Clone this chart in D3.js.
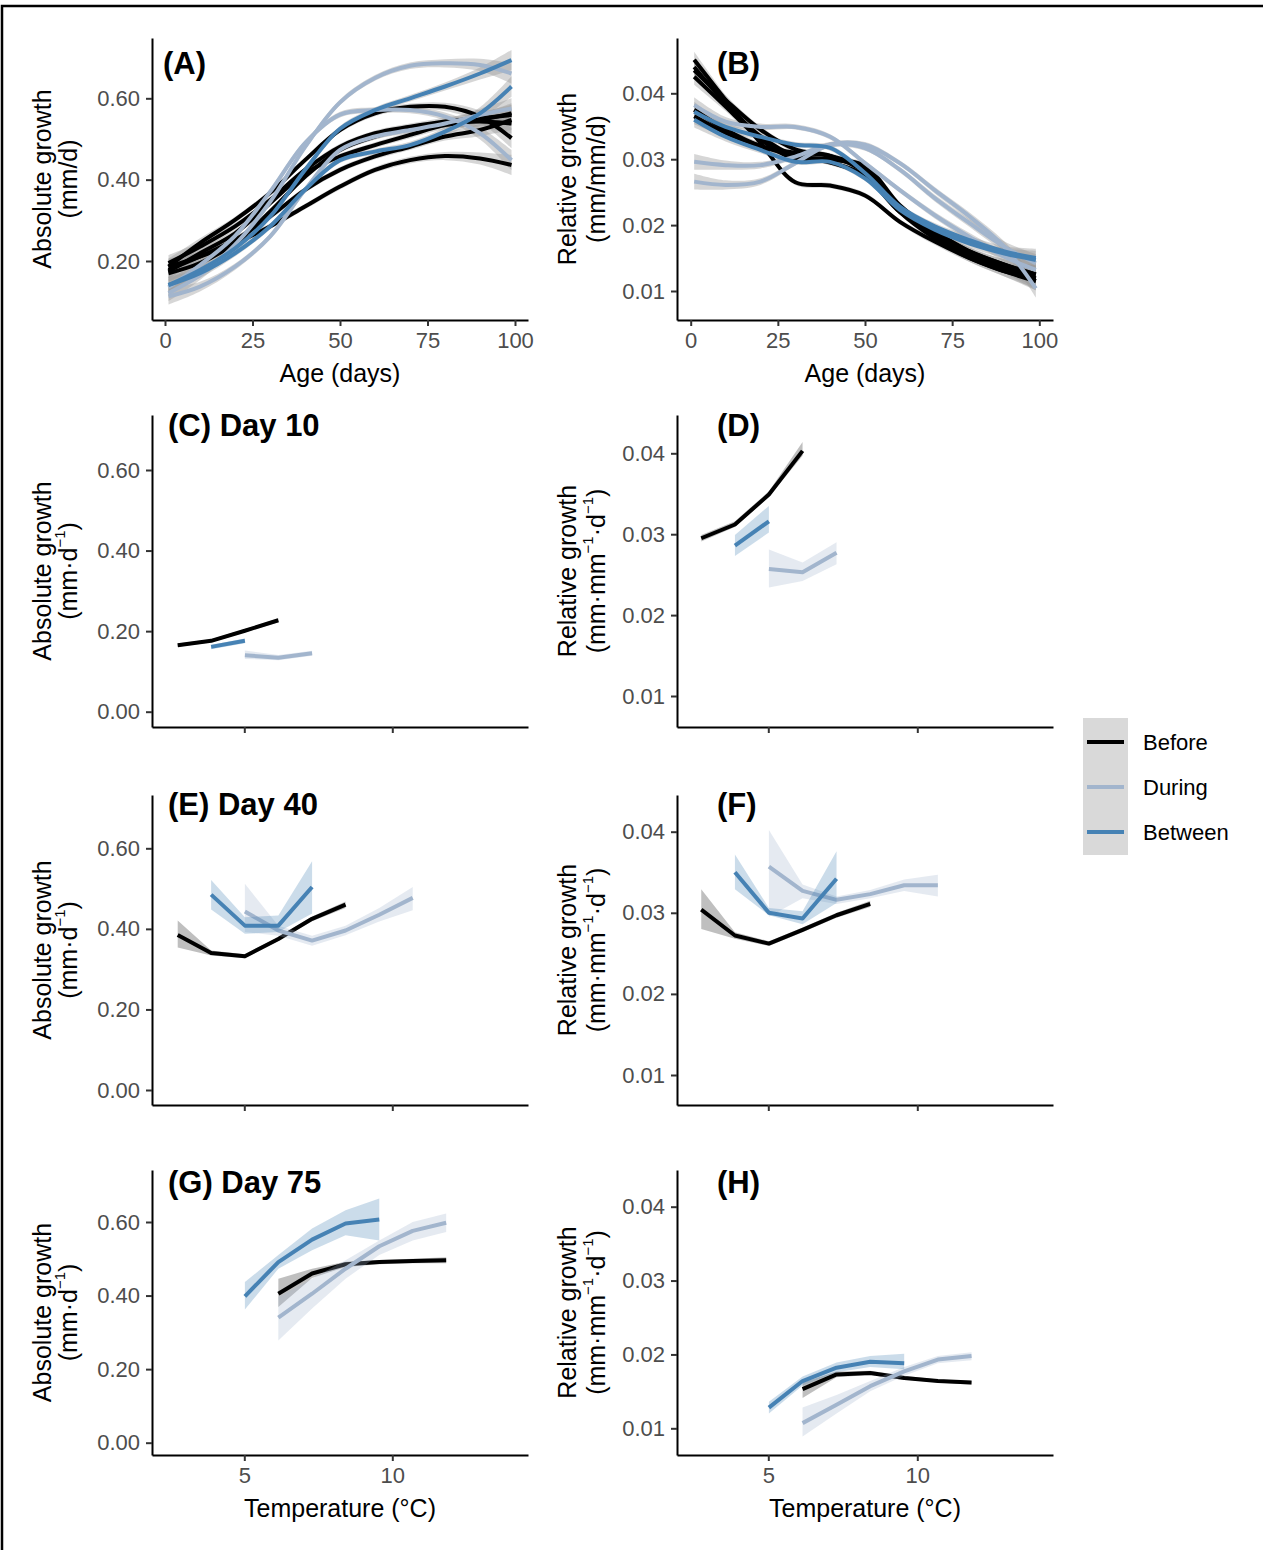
<!DOCTYPE html>
<html>
<head>
<meta charset="utf-8">
<script src="https://cdn.jsdelivr.net/npm/d3@7"></script>
<style>
  html, body { margin: 0; background: #fff; overflow: hidden; }
  svg { display: block; }
  text { font-family: "Liberation Sans", Arial, sans-serif; }
</style>
</head>
<body>
<script>
// ---- data ----
var groups = ["Before", "During", "Between"];
var groupColor = { Before: "#000000", During: "#a2b5cd", Between: "#4682b4" };
var ribbonColor = { Before: "#000000", During: "#a2b5cd", Between: "#4682b4" };

// panels A / B: smoothed growth vs age, one line per cohort
var ageDays = [1, 10, 20, 30, 40, 50, 60, 70, 80, 90, 99];

var absBefore = [
    [0.186, 0.211, 0.244, 0.285, 0.334, 0.383, 0.424, 0.448, 0.458, 0.452, 0.436],
    [0.178, 0.211, 0.252, 0.309, 0.375, 0.424, 0.457, 0.481, 0.506, 0.522, 0.547],
    [0.195, 0.235, 0.285, 0.350, 0.424, 0.481, 0.514, 0.530, 0.543, 0.551, 0.559],
    [0.186, 0.244, 0.301, 0.367, 0.448, 0.522, 0.563, 0.579, 0.579, 0.555, 0.502],
    [0.170, 0.195, 0.244, 0.321, 0.407, 0.473, 0.506, 0.526, 0.538, 0.543, 0.538],
    [0.174, 0.219, 0.268, 0.342, 0.416, 0.457, 0.485, 0.510, 0.534, 0.547, 0.563]
];
var absDuring = [
    [0.121, 0.165, 0.240, 0.345, 0.480, 0.590, 0.650, 0.680, 0.686, 0.682, 0.661],
    [0.135, 0.190, 0.262, 0.370, 0.490, 0.560, 0.571, 0.571, 0.555, 0.514, 0.448],
    [0.113, 0.137, 0.186, 0.260, 0.375, 0.473, 0.506, 0.522, 0.538, 0.559, 0.575]
];
var absBetween = [
    [0.141, 0.178, 0.231, 0.309, 0.424, 0.525, 0.571, 0.600, 0.629, 0.661, 0.694],
    [0.141, 0.170, 0.219, 0.285, 0.375, 0.448, 0.469, 0.485, 0.518, 0.563, 0.629]
];
var ciAbs = [0.020, 0.012, 0.008, 0.007, 0.007, 0.007, 0.007, 0.008, 0.010, 0.015, 0.025];

var relBefore = [
    [0.0451, 0.0390, 0.0325, 0.0265, 0.0260, 0.0245, 0.0205, 0.0175, 0.0150, 0.0130, 0.0118],
    [0.0435, 0.0390, 0.0345, 0.0315, 0.0305, 0.0280, 0.0220, 0.0180, 0.0150, 0.0130, 0.0115],
    [0.0425, 0.0380, 0.0330, 0.0300, 0.0300, 0.0285, 0.0225, 0.0185, 0.0155, 0.0135, 0.0120],
    [0.0375, 0.0345, 0.0320, 0.0310, 0.0305, 0.0285, 0.0225, 0.0185, 0.0160, 0.0140, 0.0125],
    [0.0365, 0.0340, 0.0320, 0.0305, 0.0295, 0.0275, 0.0220, 0.0190, 0.0160, 0.0135, 0.0115],
    [0.0440, 0.0385, 0.0335, 0.0305, 0.0300, 0.0290, 0.0230, 0.0190, 0.0160, 0.0140, 0.0125]
];
var relDuring = [
    [0.0266, 0.0261, 0.0266, 0.0294, 0.0322, 0.0322, 0.0294, 0.0253, 0.0213, 0.0167, 0.0104],
    [0.0296, 0.0291, 0.0291, 0.0304, 0.0322, 0.0317, 0.0284, 0.0241, 0.0203, 0.0167, 0.0142],
    [0.0382, 0.0357, 0.0349, 0.0349, 0.0334, 0.0294, 0.0253, 0.0215, 0.0182, 0.0152, 0.0132]
];
var relBetween = [
    [0.0372, 0.0349, 0.0334, 0.0322, 0.0317, 0.0279, 0.0228, 0.0198, 0.0177, 0.0160, 0.0150],
    [0.0360, 0.0334, 0.0314, 0.0296, 0.0296, 0.0271, 0.0223, 0.0193, 0.0172, 0.0157, 0.0147]
];
var ciRel = [0.0012, 0.0007, 0.0005, 0.0004, 0.0004, 0.0004, 0.0004, 0.0005, 0.0006, 0.0008, 0.0014];

// panels C-H: growth vs temperature bin; rows are [temp, fit, lower, upper]
var tempBins = [2.75, 3.88, 5.02, 6.15, 7.29, 8.42, 9.56, 10.69, 11.82];

var day10Abs = {
    Before:  [[2.75, 0.165, 0.161, 0.169], [3.88, 0.176, 0.172, 0.180], [5.02, 0.201, 0.197, 0.205], [6.15, 0.227, 0.222, 0.232]],
    During:  [[5.02, 0.140, 0.131, 0.152], [6.15, 0.134, 0.128, 0.141], [7.29, 0.145, 0.139, 0.151]],
    Between: [[3.88, 0.161, 0.155, 0.166], [5.02, 0.176, 0.170, 0.182]]
};
var day10Rel = {
    Before:  [[2.75, 0.0295, 0.0291, 0.0299], [3.88, 0.0312, 0.0309, 0.0316], [5.02, 0.0349, 0.0346, 0.0353], [6.15, 0.0403, 0.0397, 0.0414]],
    During:  [[5.02, 0.0257, 0.0234, 0.0281], [6.15, 0.0253, 0.0242, 0.0265], [7.29, 0.0277, 0.0263, 0.0290]],
    Between: [[3.88, 0.0286, 0.0273, 0.0299], [5.02, 0.0316, 0.0302, 0.0335]]
};
var day40Abs = {
    Before:  [[2.75, 0.385, 0.354, 0.421], [3.88, 0.340, 0.334, 0.346], [5.02, 0.332, 0.327, 0.337], [6.15, 0.375, 0.370, 0.380], [7.29, 0.425, 0.419, 0.431], [8.42, 0.460, 0.452, 0.468]],
    During:  [[5.02, 0.443, 0.392, 0.512], [6.15, 0.396, 0.383, 0.408], [7.29, 0.371, 0.358, 0.383], [8.42, 0.396, 0.384, 0.408], [9.56, 0.435, 0.418, 0.452], [10.69, 0.477, 0.446, 0.504]],
    Between: [[3.88, 0.485, 0.448, 0.521], [5.02, 0.408, 0.388, 0.429], [6.15, 0.408, 0.392, 0.433], [7.29, 0.504, 0.438, 0.568]]
};
var day40Rel = {
    Before:  [[2.75, 0.0304, 0.0280, 0.0329], [3.88, 0.0272, 0.0268, 0.0276], [5.02, 0.0262, 0.0259, 0.0265], [6.15, 0.0279, 0.0276, 0.0282], [7.29, 0.0297, 0.0294, 0.0300], [8.42, 0.0311, 0.0307, 0.0315]],
    During:  [[5.02, 0.0357, 0.0295, 0.0402], [6.15, 0.0327, 0.0318, 0.0335], [7.29, 0.0316, 0.0311, 0.0320], [8.42, 0.0323, 0.0318, 0.0328], [9.56, 0.0334, 0.0327, 0.0341], [10.69, 0.0334, 0.0320, 0.0347]],
    Between: [[3.88, 0.0350, 0.0329, 0.0372], [5.02, 0.0300, 0.0297, 0.0306], [6.15, 0.0293, 0.0286, 0.0302], [7.29, 0.0342, 0.0312, 0.0376]]
};
var day75Abs = {
    Before:  [[6.15, 0.405, 0.369, 0.446], [7.29, 0.460, 0.448, 0.473], [8.42, 0.485, 0.478, 0.492], [9.56, 0.491, 0.485, 0.497], [10.69, 0.494, 0.488, 0.500], [11.82, 0.496, 0.488, 0.504]],
    During:  [[6.15, 0.340, 0.278, 0.396], [7.29, 0.405, 0.365, 0.446], [8.42, 0.473, 0.446, 0.496], [9.56, 0.534, 0.510, 0.550], [10.69, 0.576, 0.550, 0.600], [11.82, 0.598, 0.573, 0.623]],
    Between: [[5.02, 0.398, 0.362, 0.437], [6.15, 0.491, 0.473, 0.510], [7.29, 0.552, 0.523, 0.582], [8.42, 0.596, 0.564, 0.632], [9.56, 0.607, 0.550, 0.664]]
};
var day75Rel = {
    Before:  [[6.15, 0.0153, 0.0141, 0.0162], [7.29, 0.0173, 0.0169, 0.0177], [8.42, 0.0175, 0.0172, 0.0178], [9.56, 0.0168, 0.0166, 0.0171], [10.69, 0.0164, 0.0162, 0.0166], [11.82, 0.0162, 0.0159, 0.0164]],
    During:  [[6.15, 0.0107, 0.0089, 0.0128], [7.29, 0.0132, 0.0120, 0.0145], [8.42, 0.0157, 0.0150, 0.0164], [9.56, 0.0177, 0.0171, 0.0183], [10.69, 0.0193, 0.0188, 0.0198], [11.82, 0.0198, 0.0192, 0.0203]],
    Between: [[5.02, 0.0128, 0.0120, 0.0136], [6.15, 0.0164, 0.0158, 0.0170], [7.29, 0.0182, 0.0176, 0.0189], [8.42, 0.0190, 0.0183, 0.0198], [9.56, 0.0188, 0.0180, 0.0201]]
};

var absTicks = [0, 0.2, 0.4, 0.6];
var relTicks = [0.01, 0.02, 0.03, 0.04];
var ageTicks = [0, 25, 50, 75, 100];
var tempTicks = [5, 10];

// ---- drawing ----
var svg = d3.select("body").append("svg")
    .attr("width", 1263)
    .attr("height", 1550);

// frame of the figure: only its top and left edges fall inside the crop
svg.append("path")
    .attr("d", "M2,1550 V6 H1263")
    .attr("fill", "none")
    .attr("stroke", "#000")
    .attr("stroke-width", 2.5);

// build a panel: scales are fixed from two reference ticks, then stretched to the panel box
function makePanel(p) {
    var x = d3.scaleLinear().domain(p.xRef[0]).range(p.xRef[1]);
    x.domain([x.invert(p.left), x.invert(p.right)]).range([p.left, p.right]);
    var y = d3.scaleLinear().domain(p.yRef[0]).range(p.yRef[1]);
    y.domain([y.invert(p.bottom), y.invert(p.top)]).range([p.bottom, p.top]);

    var g = svg.append("g");
    var plot = g.append("g");

    var xAxis = d3.axisBottom(x).tickValues(p.xTicks).tickSize(6).tickSizeOuter(0).tickPadding(6)
        .tickFormat(p.xLabels ? d3.format("d") : "");
    var yAxis = d3.axisLeft(y).tickValues(p.yTicks).tickSize(6).tickSizeOuter(0).tickPadding(6)
        .tickFormat(d3.format(p.yFmt));

    var gx = g.append("g").attr("transform", "translate(0," + p.bottom + ")").call(xAxis);
    var gy = g.append("g").attr("transform", "translate(" + p.left + ",0)").call(yAxis);
    [gx, gy].forEach(function(a) {
        a.select(".domain").attr("stroke", "#000").attr("stroke-width", 2);
        a.selectAll(".tick line").attr("stroke", "#333").attr("stroke-width", 2);
        a.selectAll(".tick text").attr("fill", "#4d4d4d").style("font-size", "22px")
            .style("font-family", "'Liberation Sans', Arial, sans-serif");
    });

    // panel tag
    g.append("text")
        .attr("x", p.tagX).attr("y", p.tagY)
        .attr("dominant-baseline", "central")
        .style("font-size", "31px").style("font-weight", "bold")
        .text(p.tag);

    // y title (two lines)
    var cy = (p.top + p.bottom) / 2;
    g.append("text")
        .attr("transform", "translate(" + (p.left - p.yTitleOff[0]) + "," + cy + ") rotate(-90)")
        .attr("text-anchor", "middle").attr("dominant-baseline", "central")
        .style("font-size", "25px").text(p.yTitle[0]);
    var t2 = g.append("text")
        .attr("transform", "translate(" + (p.left - p.yTitleOff[1]) + "," + cy + ") rotate(-90)")
        .attr("text-anchor", "middle").attr("dominant-baseline", "central")
        .style("font-size", "25px");
    p.yTitle[1].forEach(function(part) {
        var ts = t2.append("tspan").text(part.t);
        if (part.sup) ts.style("font-size", "15px").attr("dy", -9);
        if (part.down) ts.attr("dy", 9);
    });

    if (p.xTitle) {
        g.append("text")
            .attr("x", (p.left + p.right) / 2).attr("y", p.bottom + 62)
            .attr("text-anchor", "middle")
            .style("font-size", "25px").text(p.xTitle);
    }
    return { x: x, y: y, plot: plot };
}

function drawSmooth(panel, sets, ci) {
    var line = d3.line()
        .x(function(d, i) { return panel.x(ageDays[i]); })
        .y(function(d) { return panel.y(d); })
        .curve(d3.curveCatmullRom.alpha(0.5));
    var area = d3.area()
        .x(function(d, i) { return panel.x(ageDays[i]); })
        .y0(function(d, i) { return panel.y(d - ci[i]); })
        .y1(function(d, i) { return panel.y(d + ci[i]); })
        .curve(d3.curveCatmullRom.alpha(0.5));
    groups.forEach(function(gname) {
        panel.plot.selectAll(null).data(sets[gname]).enter().append("path")
            .attr("d", area).attr("fill", "#999").attr("fill-opacity", 0.4);
    });
    groups.forEach(function(gname) {
        panel.plot.selectAll(null).data(sets[gname]).enter().append("path")
            .attr("d", line)
            .attr("fill", "none")
            .attr("stroke", groupColor[gname])
            .attr("stroke-width", 4)
            .attr("stroke-linejoin", "round");
    });
}

function drawBins(panel, sets) {
    var line = d3.line()
        .x(function(d) { return panel.x(d[0]); })
        .y(function(d) { return panel.y(d[1]); });
    var area = d3.area()
        .x(function(d) { return panel.x(d[0]); })
        .y0(function(d) { return panel.y(d[2]); })
        .y1(function(d) { return panel.y(d[3]); });
    groups.forEach(function(gname) {
        panel.plot.append("path").datum(sets[gname])
            .attr("d", area)
            .attr("fill", ribbonColor[gname])
            .attr("fill-opacity", gname == "Before" ? 0.25 : 0.28);
        panel.plot.append("path").datum(sets[gname])
            .attr("d", line)
            .attr("fill", "none")
            .attr("stroke", groupColor[gname])
            .attr("stroke-width", 4)
            .attr("stroke-linejoin", "round");
    });
}

var absPerDay = [{ t: "(mm·d" }, { t: "−1", sup: true }, { t: ")", down: true }];
var relPerDay = [{ t: "(mm·mm" }, { t: "−1", sup: true }, { t: "·d", down: true },
    { t: "−1", sup: true }, { t: ")", down: true }];

var L = { left: 152, right: 528, tagX: 163 };
var R = { left: 677, right: 1053, tagX: 717 };

function box(side, top, bottom, extra) {
    return Object.assign({}, side, { top: top, bottom: bottom }, extra);
}

// row 1
var pA = makePanel(box(L, 38, 320, {
    xRef: [[0, 100], [165, 515]], yRef: [[0.2, 0.6], [261, 98.3]],
    xTicks: ageTicks, xLabels: true, yTicks: [0.2, 0.4, 0.6], yFmt: ".2f",
    tag: "(A)", tagY: 63, yTitle: ["Absolute growth", [{ t: "(mm/d)" }]], yTitleOff: [110, 84],
    xTitle: "Age (days)"
}));
drawSmooth(pA, { Before: absBefore, During: absDuring, Between: absBetween }, ciAbs);

var pB = makePanel(box(R, 38, 320, {
    xRef: [[0, 100], [690.7, 1039.3]], yRef: [[0.01, 0.04], [291, 93.3]],
    xTicks: ageTicks, xLabels: true, yTicks: relTicks, yFmt: ".2f",
    tag: "(B)", tagY: 63, yTitle: ["Relative growth", [{ t: "(mm/mm/d)" }]], yTitleOff: [110, 81],
    xTitle: "Age (days)"
}));
drawSmooth(pB, { Before: relBefore, During: relDuring, Between: relBetween }, ciRel);

// rows 2-4
var rows = [
    { top: 415, bottom: 727, tagY: 425, tag: "(C) Day 10", tagR: "(D)", abs: day10Abs, rel: day10Rel,
      yA: [[0, 0.6], [711.7, 470]], yR: [[0.01, 0.04], [696, 453.3]] },
    { top: 795, bottom: 1105, tagY: 804, tag: "(E) Day 40", tagR: "(F)", abs: day40Abs, rel: day40Rel,
      yA: [[0, 0.6], [1090, 848.3]], yR: [[0.01, 0.04], [1075, 831.7]] },
    { top: 1170, bottom: 1455, tagY: 1182, tag: "(G) Day 75", tagR: "(H)", abs: day75Abs, rel: day75Rel,
      yA: [[0, 0.6], [1442.7, 1222]], yR: [[0.01, 0.04], [1428.3, 1206.7]], last: true }
];

rows.forEach(function(r) {
    var pl = makePanel(box(L, r.top, r.bottom, {
        tagX: 168, tagY: r.tagY,
        xRef: [[5, 10], [244.3, 392.3]], yRef: r.yA,
        xTicks: tempTicks, xLabels: !!r.last, yTicks: absTicks, yFmt: ".2f",
        tag: r.tag, yTitle: ["Absolute growth", absPerDay], yTitleOff: [110, 84],
        xTitle: r.last ? "Temperature (°C)" : null
    }));
    drawBins(pl, r.abs);
    var pr = makePanel(box(R, r.top, r.bottom, {
        tagY: r.tagY,
        xRef: [[5, 10], [768.3, 917.3]], yRef: r.yR,
        xTicks: tempTicks, xLabels: !!r.last, yTicks: relTicks, yFmt: ".2f",
        tag: r.tagR, yTitle: ["Relative growth", relPerDay], yTitleOff: [110, 81],
        xTitle: r.last ? "Temperature (°C)" : null
    }));
    drawBins(pr, r.rel);
});

// legend
var legend = svg.append("g").attr("transform", "translate(1083,718)");
legend.append("rect")
    .attr("width", 45).attr("height", 137)
    .attr("fill", "#d9d9d9");
groups.forEach(function(gname, i) {
    var yy = 24 + i * 45;
    legend.append("line")
        .attr("x1", 4).attr("x2", 41)
        .attr("y1", yy).attr("y2", yy)
        .attr("stroke", groupColor[gname])
        .attr("stroke-width", 4);
    legend.append("text")
        .attr("x", 60).attr("y", yy)
        .attr("dominant-baseline", "central")
        .style("font-size", "22px")
        .text(gname);
});
</script>
</body>
</html>
